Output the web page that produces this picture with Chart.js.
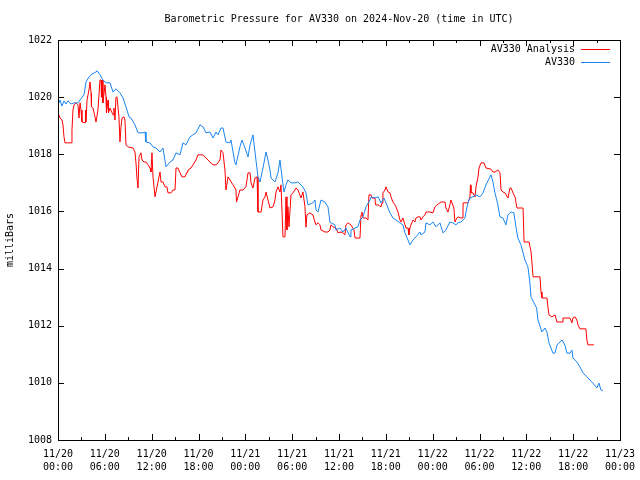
<!DOCTYPE html>
<html>
<head>
<meta charset="utf-8">
<script src="https://cdn.jsdelivr.net/npm/chart.js@4.4.0/dist/chart.umd.min.js"></script>
<style>
  html, body { margin: 0; padding: 0; background: #fff; }
  canvas { display: block; }
</style>
</head>
<body>
<canvas id="chart" width="640" height="480"></canvas>
<script>
// hours since 2024-11-20 00:00 UTC
const tickDays = ['11/20', '11/20', '11/20', '11/20', '11/21', '11/21', '11/21', '11/21', '11/22', '11/22', '11/22', '11/22', '11/23'];
const tickTimes = ['00:00', '06:00', '12:00', '18:00', '00:00', '06:00', '12:00', '18:00', '00:00', '06:00', '12:00', '18:00', '00:00'];

const analysisHours = [
  0.00, 0.26, 0.51, 0.64, 0.77, 0.90, 1.67, 1.79, 1.92, 2.05, 2.31, 2.56, 2.69, 2.82, 2.95, 3.07, 3.46, 3.52, 3.59, 3.72,
  3.97, 4.10, 4.23, 4.29, 4.48, 4.74, 4.87, 5.12, 5.38, 5.51, 5.57, 5.64, 5.76, 6.02, 6.15, 6.21, 6.41, 6.47, 6.66, 7.05,
  7.17, 7.30, 7.43, 7.56, 7.81, 7.94, 8.07, 8.20, 8.45, 8.58, 8.71, 8.97, 9.61, 9.86, 9.99, 10.12,
  10.25, 10.38, 10.63, 10.76, 11.02, 11.27, 11.53, 11.79, 11.91, 12.04, 12.17, 12.43, 12.55, 12.81, 13.07, 13.20, 13.45, 13.71, 13.96, 14.09,
  14.48, 14.73, 14.99, 15.12, 15.37, 15.63, 15.88, 16.27, 16.53, 16.65, 17.04, 17.68, 17.93, 18.58, 18.96, 19.47, 19.86, 20.24,
  20.50, 20.75, 20.88, 21.14, 21.39, 21.52, 21.78, 22.03, 22.42, 22.67, 22.80, 22.87, 23.06, 23.31, 23.70, 24.08, 24.34, 24.60, 24.73, 24.98,
  25.24, 25.50, 25.62, 26.01, 26.26, 26.52, 26.65, 26.90, 27.16, 27.55, 27.80, 27.93, 28.18, 28.44, 28.57, 28.82, 29.08, 29.21, 29.33, 29.46,
  29.59, 29.85, 30.10, 30.36, 30.49, 30.74,
  31.13, 31.38, 31.64, 31.77, 31.89, 32.28, 32.66, 32.92, 33.05, 33.31, 33.56, 33.69, 34.20, 34.59, 34.84, 34.97, 35.23, 35.61, 35.87, 36.25,
  36.51, 36.76, 36.89, 37.15, 37.53, 37.92, 38.05, 38.69, 38.82, 38.94, 39.07, 39.46, 39.71, 39.84, 40.10, 40.23, 40.61, 40.67, 41.00,
  41.38, 41.51, 41.63, 41.89, 42.02, 42.28, 42.53, 42.66, 42.91, 43.17, 43.30, 43.56, 43.81, 43.94, 44.19, 44.45, 44.58, 44.84, 44.96, 45.09,
  45.22, 45.48, 45.73, 45.86, 46.12, 46.37, 46.50, 46.76, 47.01, 47.14, 47.65, 48.04, 48.29, 48.55, 48.93, 49.06, 49.58, 49.70, 49.96, 50.21,
  50.34, 50.72, 50.85, 51.11, 51.24,
  51.62, 51.88, 51.90, 52.52, 52.78, 52.84, 52.91, 53.17, 53.42, 53.55, 53.81, 53.94, 54.19, 54.58, 54.83, 55.47, 55.73, 55.98, 56.37, 56.63,
  56.76, 57.01, 57.27, 57.40, 57.65, 57.91, 58.04, 58.29, 58.55, 58.68, 58.81, 59.58, 59.71, 60.35, 60.61, 60.86, 61.75, 61.88, 62.00, 62.64,
  62.77, 62.90, 63.28, 63.67, 63.92, 64.57, 64.69, 65.59, 65.84, 65.97, 66.23, 66.48, 66.61, 66.87, 67.64, 67.76, 67.89, 68.66
];
const analysisMb = [
  1019.45, 1019.27, 1019.20, 1019.03, 1018.61, 1018.40, 1018.40, 1018.85, 1019.55, 1019.73, 1019.80, 1019.73, 1019.27, 1019.80, 1019.55, 1019.13, 1019.10, 1019.55, 1019.13, 1019.90,
  1020.25, 1020.53, 1020.15, 1019.66, 1019.62, 1019.31, 1019.13, 1019.55, 1020.60, 1020.60, 1020.00, 1020.60, 1019.80, 1020.43, 1020.00, 1019.45, 1019.90, 1019.45, 1019.62, 1019.38,
  1019.62, 1019.20, 1020.00, 1020.00, 1019.31, 1018.43, 1018.96, 1019.27, 1019.31, 1019.20, 1018.33, 1018.26, 1018.22, 1018.08, 1017.70, 1017.17,
  1016.82, 1017.91, 1018.05, 1017.80, 1017.73, 1017.73, 1017.63, 1017.52, 1017.38, 1018.05, 1017.21, 1016.51, 1016.51, 1017.03, 1017.38, 1017.03, 1017.03, 1016.86, 1016.86, 1016.65,
  1016.65, 1016.75, 1016.75, 1017.52, 1017.52, 1017.35, 1017.21, 1017.21, 1017.38, 1017.45, 1017.52, 1017.80, 1017.98, 1017.98, 1017.87, 1017.73, 1017.63, 1017.63,
  1017.70, 1017.80, 1018.15, 1018.05, 1017.45, 1016.75, 1017.21, 1017.10, 1016.93, 1016.82, 1016.75, 1016.33, 1016.51, 1016.75, 1016.75, 1016.86, 1017.35, 1017.35, 1017.00, 1016.82,
  1017.17, 1017.21, 1015.98, 1015.98, 1016.40, 1016.51, 1016.68, 1016.40, 1016.12, 1016.16, 1016.40, 1016.68, 1016.86, 1016.68, 1016.93, 1015.11, 1015.11, 1016.51, 1015.35, 1016.16,
  1015.46, 1016.58, 1016.65, 1016.75, 1016.82, 1016.75,
  1016.47, 1016.68, 1016.16, 1015.45, 1015.88, 1015.95, 1015.88, 1015.63, 1015.53, 1015.60, 1015.53, 1015.35, 1015.28, 1015.28, 1015.35, 1015.53, 1015.46, 1015.42, 1015.25, 1015.28,
  1015.25, 1015.18, 1015.53, 1015.60, 1015.53, 1015.35, 1015.07, 1015.07, 1015.88, 1015.98, 1015.77, 1015.77, 1015.70, 1016.58, 1016.58, 1016.47, 1016.47, 1016.23, 1016.23,
  1016.16, 1016.30, 1016.65, 1016.75, 1016.86, 1016.68, 1016.65, 1016.51, 1016.33, 1016.23, 1016.16, 1015.98, 1015.70, 1015.63, 1015.77, 1015.53, 1015.42, 1015.42, 1015.18, 1015.42,
  1015.53, 1015.70, 1015.63, 1015.77, 1015.81, 1015.81, 1015.70, 1015.81, 1015.88, 1015.98, 1015.98, 1015.95, 1016.16, 1016.23, 1016.30, 1016.33, 1016.33, 1016.12, 1015.98, 1016.23,
  1016.40, 1016.12, 1015.63, 1015.77, 1015.81,
  1015.77, 1015.77, 1016.30, 1016.30, 1016.51, 1016.93, 1016.65, 1016.65, 1016.51, 1016.86, 1017.21, 1017.52, 1017.70, 1017.70, 1017.52, 1017.48, 1017.38, 1017.38, 1017.45, 1017.35,
  1016.75, 1016.68, 1016.65, 1016.58, 1016.47, 1016.82, 1016.82, 1016.65, 1016.51, 1016.30, 1016.12, 1016.12, 1014.93, 1014.93, 1014.58, 1013.71, 1013.71, 1013.18, 1012.97, 1012.97,
  1012.66, 1012.38, 1012.31, 1012.38, 1012.13, 1012.13, 1012.27, 1012.27, 1012.10, 1012.27, 1012.31, 1012.20, 1012.03, 1011.89, 1011.89, 1011.50, 1011.33, 1011.33
];

const av330Hours = [
  0.00, 0.26, 0.51, 0.77, 1.02, 1.28, 1.67, 2.05, 2.56, 2.82, 3.33, 3.59, 3.97, 4.36, 4.87, 5.00, 5.38, 5.76, 6.15, 6.66,
  7.05, 7.43, 7.94, 8.33, 8.71, 9.10, 9.35, 9.86, 10.25,
  10.89, 11.15, 11.27, 11.79, 12.17, 12.55, 13.07, 13.45, 13.84, 14.35, 14.73, 15.12, 15.63, 16.01, 16.40, 16.91, 17.29, 17.68, 18.19, 18.58,
  18.96, 19.47, 19.86, 20.24,
  20.50, 20.88, 21.14, 21.52, 22.03, 22.16, 22.67, 22.80, 23.31, 23.57, 23.96, 24.34, 24.60, 24.98, 25.24, 25.62, 25.88, 26.26, 26.65, 26.90,
  27.16, 27.29, 27.80, 28.18, 28.44, 28.69, 28.95, 29.21, 29.46, 29.85, 30.36, 30.74,
  31.38, 31.77, 32.02, 32.66, 32.92, 33.05, 33.31, 33.69, 34.20, 34.59, 34.84, 34.97, 35.48, 35.61, 36.12, 36.51, 36.89, 37.41, 37.53, 38.05,
  38.43, 38.69, 39.07, 39.46, 39.97, 40.10, 40.61, 41.00,
  41.38, 41.76, 42.02, 42.53, 42.91, 43.30, 43.81, 44.19, 44.45, 44.84, 45.09, 45.48, 45.86, 46.37, 46.50, 47.01, 47.14, 47.65, 48.04, 48.42,
  48.93, 49.32, 49.70, 50.21, 50.60, 50.98,
  51.24, 51.62, 52.14, 52.27, 52.52, 52.78, 53.17, 53.55, 54.06, 54.45, 54.83, 55.34, 55.47, 55.72, 55.98, 56.36, 56.62, 57.00, 57.39, 57.64,
  58.03, 58.41, 58.67, 58.92, 59.31, 59.82, 60.20, 60.46, 60.59, 60.98, 61.32, 61.49, 62.00, 62.38, 62.64, 62.90, 63.41, 63.67, 63.92, 64.31,
  64.57, 64.95, 65.20, 65.59, 65.84, 65.97, 66.48, 66.87, 67.25, 67.76, 68.15, 68.53, 69.04, 69.30, 69.56, 69.81
];
const av330Mb = [
  1019.73, 1019.90, 1019.69, 1019.87, 1019.76, 1019.87, 1019.76, 1019.80, 1019.80, 1019.90, 1020.08, 1020.53, 1020.71, 1020.81, 1020.88, 1020.92, 1020.78, 1020.60, 1020.50, 1020.50,
  1020.18, 1020.29, 1020.15, 1019.97, 1019.66, 1019.31, 1019.27, 1019.03, 1018.75,
  1018.75, 1018.78, 1018.43, 1018.40, 1018.26, 1018.22, 1018.08, 1018.22, 1017.56, 1017.73, 1017.80, 1018.05, 1017.98, 1018.40, 1018.33, 1018.61, 1018.68, 1018.75, 1019.03, 1018.96,
  1018.75, 1018.78, 1018.57, 1018.78,
  1018.68, 1018.92, 1018.92, 1018.43, 1018.40, 1018.50, 1017.70, 1017.63, 1018.26, 1018.50, 1018.22, 1017.91, 1018.33, 1018.68, 1018.08, 1017.21, 1017.03, 1017.52, 1018.08, 1017.80,
  1017.45, 1017.17, 1017.03, 1017.35, 1017.80, 1017.21, 1016.68, 1016.93, 1017.10, 1017.00, 1017.00, 1017.03,
  1016.86, 1016.65, 1016.23, 1016.30, 1016.40, 1016.05, 1015.98, 1016.40, 1016.33, 1016.16, 1015.63, 1015.60, 1015.53, 1015.35, 1015.42, 1015.28, 1015.42, 1015.11, 1015.35, 1015.42,
  1015.46, 1015.70, 1015.81, 1016.16, 1016.40, 1016.51, 1016.47, 1016.51,
  1016.30, 1016.47, 1016.30, 1015.95, 1015.77, 1015.70, 1015.60, 1015.53, 1015.25, 1015.00, 1014.83, 1015.00, 1015.11, 1015.28, 1015.18, 1015.28, 1015.60, 1015.53, 1015.63, 1015.46,
  1015.60, 1015.25, 1015.35, 1015.63, 1015.60, 1015.53,
  1015.60, 1015.63, 1015.77, 1015.98, 1016.30, 1016.47, 1016.51, 1016.58, 1016.51, 1016.65, 1016.93, 1017.21, 1017.28, 1017.03, 1016.65, 1016.23, 1015.81, 1015.77, 1015.53, 1015.88,
  1015.98, 1015.95, 1015.46, 1015.07, 1014.83, 1014.30, 1014.06, 1013.50, 1013.02, 1012.80, 1012.62, 1012.20, 1011.78, 1011.92, 1011.78, 1011.40, 1011.04, 1011.04, 1011.32, 1011.43,
  1011.50, 1011.32, 1011.04, 1011.04, 1011.15, 1010.87, 1010.73, 1010.56, 1010.35, 1010.21, 1010.10, 1009.99, 1009.82, 1009.99, 1009.75, 1009.72
];

const MONO = "'DejaVu Sans Mono', 'Liberation Mono', monospace";

function points(hours, values) {
  return hours.map((h, i) => ({ x: h, y: values[i] }));
}

// gnuplot style frame, inward ticks, title and key
const gnuplotFrame = {
  id: 'gnuplotFrame',
  afterDraw(chart) {
    const ctx = chart.ctx;
    const a = chart.chartArea;
    const xs = chart.scales.x;
    const ys = chart.scales.y;
    ctx.save();
    ctx.strokeStyle = '#000';
    ctx.lineWidth = 1;
    ctx.strokeRect(Math.round(a.left) + 0.5, Math.round(a.top) + 0.5, Math.round(a.right - a.left), Math.round(a.bottom - a.top));
    ctx.beginPath();
    for (let h = 0; h <= 72; h += 3) {
      const px = Math.round(xs.getPixelForValue(h)) + 0.5;
      const len = h % 6 === 0 ? 6 : 3;
      ctx.moveTo(px, a.bottom); ctx.lineTo(px, a.bottom - len);
      ctx.moveTo(px, a.top); ctx.lineTo(px, a.top + len);
    }
    for (let v = 1008; v <= 1022; v += 2) {
      const py = Math.round(ys.getPixelForValue(v)) + 0.5;
      ctx.moveTo(a.left, py); ctx.lineTo(a.left + 6, py);
      ctx.moveTo(a.right, py); ctx.lineTo(a.right - 6, py);
    }
    ctx.stroke();

    ctx.fillStyle = '#000';
    ctx.font = '10px ' + MONO;
    ctx.textBaseline = 'middle';
    ctx.textAlign = 'center';
    ctx.fillText('Barometric Pressure for AV330 on 2024-Nov-20 (time in UTC)', (a.left + a.right) / 2, 19);

    const key = [['AV330 Analysis', '#ff0000'], ['AV330', '#1a84f0']];
    ctx.textAlign = 'right';
    key.forEach((k, i) => {
      const y = 49 + i * 13;
      ctx.fillStyle = '#000';
      ctx.fillText(k[0], 575, y);
      ctx.strokeStyle = k[1];
      ctx.beginPath();
      ctx.moveTo(581, y + 0.5);
      ctx.lineTo(610, y + 0.5);
      ctx.stroke();
    });
    ctx.restore();
  }
};

new Chart(document.getElementById('chart').getContext('2d'), {
  type: 'line',
  data: {
    datasets: [
      {
        label: 'AV330',
        data: points(av330Hours, av330Mb),
        borderColor: '#1a84f0',
        borderWidth: 1,
        pointRadius: 0,
        tension: 0,
        order: 0
      },
      {
        label: 'AV330 Analysis',
        data: points(analysisHours, analysisMb),
        borderColor: '#ff0000',
        borderWidth: 1,
        pointRadius: 0,
        tension: 0,
        order: 1
      }
    ]
  },
  options: {
    responsive: false,
    animation: false,
    layout: { padding: { top: 40, right: 20, left: 0, bottom: 0 } },
    plugins: {
      legend: { display: false },
      title: { display: false },
      tooltip: { enabled: false }
    },
    scales: {
      x: {
        type: 'linear',
        min: 0,
        max: 72,
        grid: { display: false, drawTicks: false },
        border: { display: false },
        afterFit: (scale) => {
          scale.height = 40;
          scale.paddingLeft = 0;
          scale.paddingRight = 0;
        },
        ticks: {
          stepSize: 6,
          autoSkip: false,
          maxRotation: 0,
          padding: 8,
          color: '#000',
          font: { family: MONO, size: 10, lineHeight: 1.3 },
          callback: (v) => {
            const i = Math.round(v / 6);
            return [tickDays[i], tickTimes[i]];
          }
        }
      },
      y: {
        min: 1008,
        max: 1022,
        grid: { display: false, drawTicks: false },
        border: { display: false },
        afterFit: (scale) => {
          scale.width = 58;
          scale.paddingTop = 0;
          scale.paddingBottom = 0;
        },
        title: {
          display: true,
          text: 'milliBars',
          color: '#000',
          font: { family: MONO, size: 10 },
          padding: { top: 4, bottom: 4 }
        },
        ticks: {
          stepSize: 2,
          padding: 6,
          color: '#000',
          font: { family: MONO, size: 10 },
          callback: (v) => String(v)
        }
      }
    }
  },
  plugins: [gnuplotFrame]
});
</script>
</body>
</html>
